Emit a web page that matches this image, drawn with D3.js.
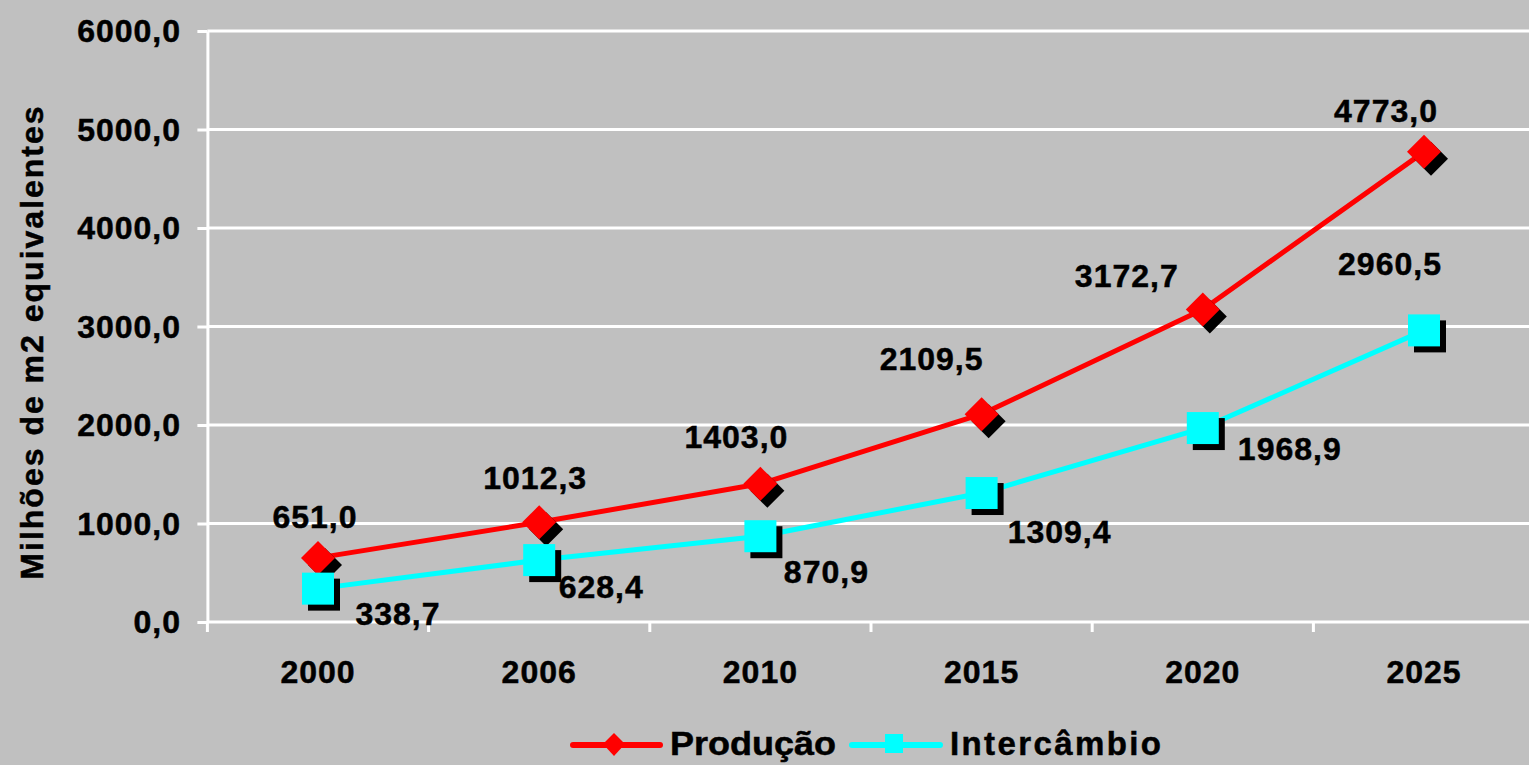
<!DOCTYPE html>
<html>
<head>
<meta charset="utf-8">
<script src="https://cdn.jsdelivr.net/npm/d3@7"></script>
<style>
  html, body { margin: 0; padding: 0; background: #C0C0C0; }
  svg { display: block; }
  text { font-family: "Liberation Sans", Arial, sans-serif; font-weight: bold; fill: #000; stroke: #000; stroke-width: 0.5px; }
</style>
</head>
<body>
<svg id="chart" width="1529" height="765"></svg>
<script>
// Series data (milhões de m2 equivalentes)
const years = ["2000", "2006", "2010", "2015", "2020", "2025"];
const producao = [651.0, 1012.3, 1403.0, 2109.5, 3172.7, 4773.0];
const intercambio = [338.7, 628.4, 870.9, 1309.4, 1968.9, 2960.5];
const yTicks = [0, 1000, 2000, 3000, 4000, 5000, 6000];

// Label placement relative to each point [dx, dy]
const producaoLabelOffsets = [[-3, -30], [-4, -33], [-24, -36], [-50, -44], [-76, -22], [-38, -30]];
const intercambioLabelOffsets = [[80, 36], [62, 38], [66, 47], [78, 50], [87, 32], [-34, -55]];

const svg = d3.select("#chart");
const plotLeft = 207.4, plotRight = 1534.6, plotTop = 31, plotBottom = 622;

const x = d3.scaleBand().domain(years).range([plotLeft, plotRight]);
const y = d3.scaleLinear().domain([0, 6000]).range([plotBottom, plotTop]);
const fmt = v => d3.format(".1f")(v).replace(".", ",");
const cx = d => x(d) + x.bandwidth() / 2;

// Background
svg.append("rect").attr("width", 1529).attr("height", 765).attr("fill", "#C0C0C0");

// Horizontal gridlines + y ticks
const yAxis = d3.axisLeft(y).tickValues(yTicks).tickSize(10).tickSizeOuter(0).tickFormat("");
const gy = svg.append("g").attr("transform", `translate(${plotLeft},0)`).call(yAxis);
gy.select(".domain").attr("stroke", "#fff").attr("stroke-width", 3);
gy.selectAll(".tick line").attr("stroke", "#fff").attr("stroke-width", 3);
svg.append("g").selectAll("line").data(yTicks).join("line")
  .attr("x1", plotLeft).attr("x2", 1529)
  .attr("y1", d => y(d)).attr("y2", d => y(d))
  .attr("stroke", "#fff").attr("stroke-width", 3);

// Y tick labels
svg.append("g").selectAll("text").data(yTicks).join("text")
  .attr("x", 181).attr("y", d => y(d) + 11)
  .attr("text-anchor", "end")
  .style("font-size", "32px").style("letter-spacing", "1px")
  .text(fmt);

// X axis ticks at category boundaries
const bounds = years.map(d => x(d));
svg.append("g").selectAll("line").data(bounds).join("line")
  .attr("x1", d => d).attr("x2", d => d)
  .attr("y1", plotBottom).attr("y2", plotBottom + 10)
  .attr("stroke", "#fff").attr("stroke-width", 3);

// X tick labels
svg.append("g").selectAll("text").data(years).join("text")
  .attr("x", cx).attr("y", 683)
  .attr("text-anchor", "middle")
  .style("font-size", "32px").style("letter-spacing", "1px")
  .text(d => d);

// Y axis title
svg.append("text")
  .attr("transform", "translate(43,342) rotate(-90)")
  .attr("text-anchor", "middle")
  .style("font-size", "32px").style("letter-spacing", "2px")
  .text("Milhões de m2 equivalentes");

// Lines
const line = d3.line().x((d, i) => cx(years[i])).y(d => y(d));
svg.append("path").datum(producao).attr("d", line)
  .attr("fill", "none").attr("stroke", "#FF0000").attr("stroke-width", 5).attr("stroke-linejoin", "round");
svg.append("path").datum(intercambio).attr("d", line)
  .attr("fill", "none").attr("stroke", "#00FFFF").attr("stroke-width", 5).attr("stroke-linejoin", "round");

// Markers with drop shadows
const diamond = (px, py, r) => `M${px},${py - r}L${px + r},${py}L${px},${py + r}L${px - r},${py}Z`;
const gp = svg.append("g");
gp.selectAll("path.sh").data(producao).join("path").attr("class", "sh")
  .attr("d", (d, i) => diamond(cx(years[i]) + 7, y(d) + 7, 17)).attr("fill", "#000");
gp.selectAll("path.mk").data(producao).join("path").attr("class", "mk")
  .attr("d", (d, i) => diamond(cx(years[i]), y(d), 17)).attr("fill", "#FF0000");

const gi = svg.append("g");
const s = 32;
gi.selectAll("rect.sh").data(intercambio).join("rect").attr("class", "sh")
  .attr("x", (d, i) => cx(years[i]) - s / 2 + 6).attr("y", d => y(d) - s / 2 + 6)
  .attr("width", s).attr("height", s).attr("fill", "#000");
gi.selectAll("rect.mk").data(intercambio).join("rect").attr("class", "mk")
  .attr("x", (d, i) => cx(years[i]) - s / 2).attr("y", d => y(d) - s / 2)
  .attr("width", s).attr("height", s).attr("fill", "#00FFFF");

// Data labels
svg.append("g").selectAll("text").data(producao).join("text")
  .attr("x", (d, i) => cx(years[i]) + producaoLabelOffsets[i][0])
  .attr("y", (d, i) => y(d) + producaoLabelOffsets[i][1])
  .attr("text-anchor", "middle")
  .style("font-size", "32px").style("letter-spacing", "1px")
  .text(fmt);
svg.append("g").selectAll("text").data(intercambio).join("text")
  .attr("x", (d, i) => cx(years[i]) + intercambioLabelOffsets[i][0])
  .attr("y", (d, i) => y(d) + intercambioLabelOffsets[i][1])
  .attr("text-anchor", "middle")
  .style("font-size", "32px").style("letter-spacing", "1px")
  .text(fmt);

// Legend
const lg = svg.append("g");
lg.append("line").attr("x1", 573).attr("x2", 660).attr("y1", 745).attr("y2", 745)
  .attr("stroke", "#FF0000").attr("stroke-width", 6).attr("stroke-linecap", "round");
lg.append("path").attr("d", "M614,733L625,744L614,756L603,744Z").attr("fill", "#FF0000");
lg.append("text").attr("x", 670).attr("y", 755)
  .attr("textLength", 166).attr("lengthAdjust", "spacingAndGlyphs")
  .style("font-size", "33px").text("Produção");
lg.append("line").attr("x1", 852).attr("x2", 940).attr("y1", 745).attr("y2", 745)
  .attr("stroke", "#00FFFF").attr("stroke-width", 6).attr("stroke-linecap", "round");
lg.append("rect").attr("x", 885).attr("y", 734).attr("width", 18).attr("height", 19).attr("fill", "#00FFFF");
lg.append("text").attr("x", 950).attr("y", 755)
  .attr("textLength", 211).attr("lengthAdjust", "spacing")
  .style("font-size", "33px").text("Intercâmbio");
</script>
</body>
</html>
